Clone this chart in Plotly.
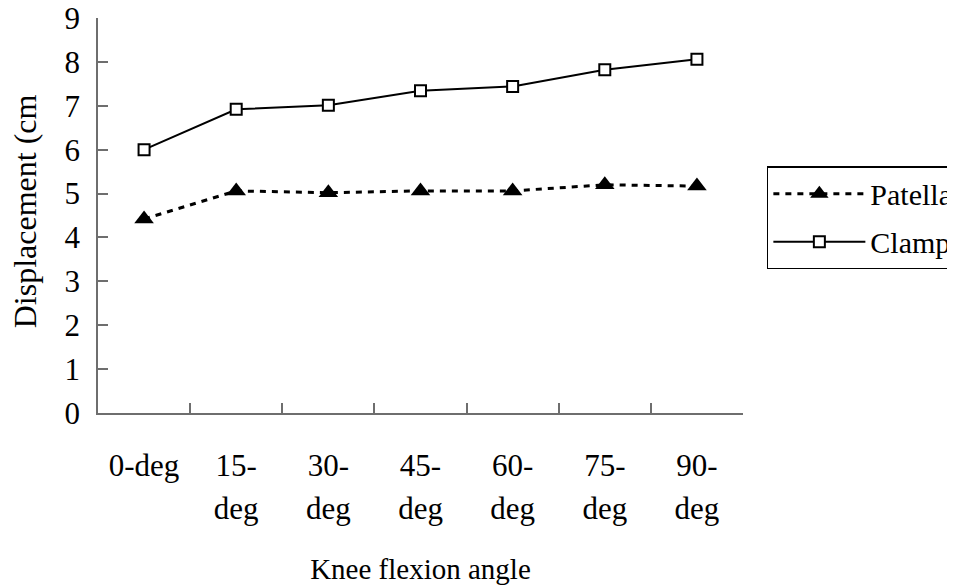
import plotly.graph_objects as go

categories = ["0-deg", "15-deg", "30-deg", "45-deg", "60-deg", "75-deg", "90-deg"]
label_line1 = ["0-deg", "15-", "30-", "45-", "60-", "75-", "90-"]
label_line2 = ["", "deg", "deg", "deg", "deg", "deg", "deg"]
patella = [4.42, 5.06, 5.02, 5.06, 5.06, 5.2, 5.17]
clamp = [6.0, 6.92, 7.01, 7.34, 7.44, 7.82, 8.06]
y_ticks = [0, 1, 2, 3, 4, 5, 6, 7, 8, 9]

FONT = "Liberation Serif, Times New Roman, serif"
AX = "#6e6e6e"

fig = go.Figure()
fig.add_trace(go.Scatter(
    x=categories, y=patella, name="Patella", mode="lines+markers",
    line=dict(color="black", width=3, dash="6px,6px"),
    marker=dict(symbol="triangle-up", size=17, color="black"),
    legendgroup="p",
))
fig.add_trace(go.Scatter(
    x=categories, y=clamp, name="Clamp", mode="lines+markers",
    line=dict(color="black", width=2),
    marker=dict(symbol="square", size=11, color="white", line=dict(color="black", width=2)),
    legendgroup="c",
))
# invisible trace carrying the second line of tick labels
fig.add_trace(go.Scatter(x=categories, y=clamp, xaxis="x2", showlegend=False,
                         mode="markers", marker=dict(opacity=0), hoverinfo="skip"))

fig.update_layout(
    width=947, height=580,
    paper_bgcolor="white", plot_bgcolor="white",
    margin=dict(l=90, r=212, t=10, b=175, autoexpand=False),
    font=dict(family=FONT, color="black", size=30),
    xaxis=dict(
        type="category", categoryorder="array", categoryarray=categories,
        tickmode="array", tickvals=categories, ticktext=label_line1,
        tickson="boundaries", ticks="inside", ticklen=10, tickcolor=AX, tickwidth=1.5,
        showline=True, linecolor=AX, linewidth=1.5, showgrid=False, zeroline=False,
        ticklabelstandoff=24, tickfont=dict(size=31, family=FONT, color="black"),
        title=dict(text="Knee flexion angle", font=dict(size=29, family=FONT, color="black"), standoff=77),
        range=[-0.5, 6.5],
    ),
    xaxis2=dict(
        type="category", categoryorder="array", categoryarray=categories,
        overlaying="x", matches="x", anchor="y", side="bottom",
        tickmode="array", tickvals=categories, ticktext=label_line2,
        ticks="", showline=False, showgrid=False, zeroline=False,
        ticklabelstandoff=74, tickfont=dict(size=31, family=FONT, color="black"),
    ),
    yaxis=dict(
        range=[0, 9], tickmode="array", tickvals=y_ticks,
        ticks="inside", ticklen=10, tickcolor=AX, tickwidth=1.5,
        showline=True, linecolor=AX, linewidth=1.5, showgrid=False, zeroline=False,
        ticklabelstandoff=10, ticklabeloverflow="allow",
        tickfont=dict(size=31, family=FONT, color="black"),
    ),
    annotations=[dict(
        text="Displacement (cm", xref="paper", yref="paper", x=-0.113, y=0.511,
        xanchor="center", yanchor="middle", textangle=-90, showarrow=False,
        font=dict(size=32, family=FONT, color="black"),
    )],
    legend=dict(
        x=1.037, y=0.625, xanchor="left", yanchor="top",
        bordercolor="black", borderwidth=1.5, bgcolor="white",
        font=dict(size=30, family=FONT, color="black"), itemwidth=92,
        traceorder="grouped", tracegroupgap=6,
    ),
)

fig.write_html("out.html")
